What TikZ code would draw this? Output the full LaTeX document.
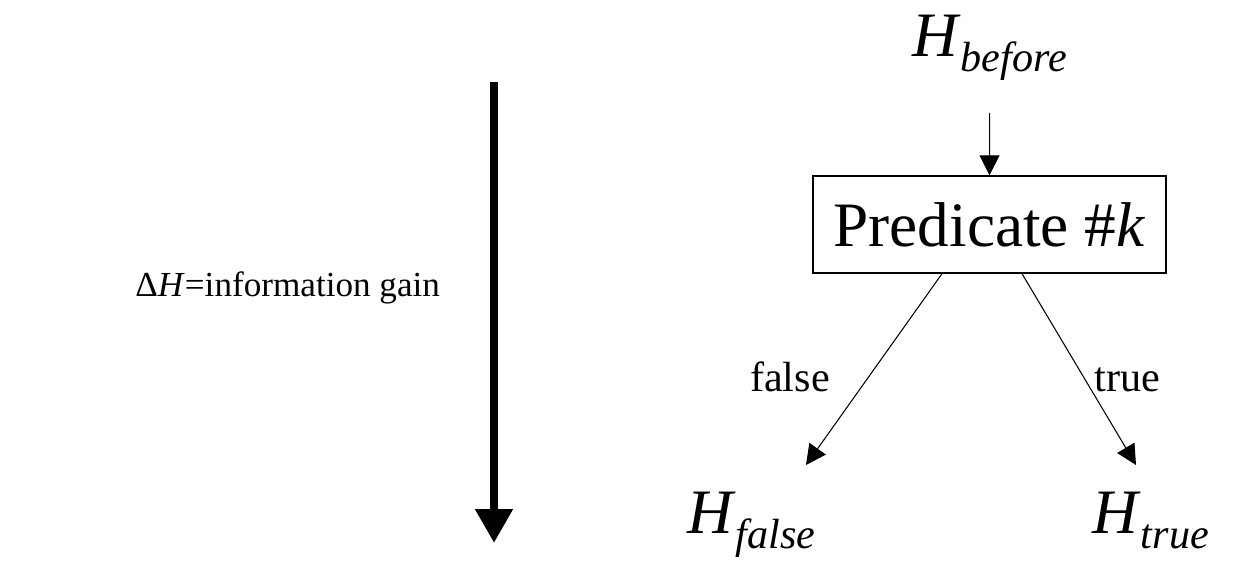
\documentclass[tikz,border=0pt]{standalone}
\usepackage{fontspec}
\setmainfont{Liberation Serif}
\usetikzlibrary{arrows.meta}

\newcommand{\Hsub}[1]{{\fontsize{36}{40}\selectfont\textit{H}}{\fontsize{24}{28}\selectfont\raisebox{-0.3cm}{\textit{#1}}}}

\tikzset{
  txt/.style={inner sep=0pt},
  predbox/.style={draw, line width=0.8pt, minimum width=7.06cm, minimum height=1.94cm, inner sep=0pt, font=\fontsize{36}{40}\selectfont},
  branch/.style={line width=0.6pt, -{Triangle[width=0.4cm,length=0.4cm]}},
  edgelbl/.style={inner sep=0pt, anchor=base, font=\fontsize{24}{28}\selectfont}
}

\begin{document}
\begin{tikzpicture}
    \useasboundingbox (0,0) rectangle (24.74,11.2);

    % Information gain arrow
    \coordinate (gaintop) at (9.88,9.56);
    \coordinate (gaintip) at (9.88,0.34);
    \draw[line width=4.5pt, -{Triangle[width=0.72cm,length=0.68cm]}] (gaintop) -- (gaintip);
    \node[txt, anchor=base west, font=\fontsize{20}{24}\selectfont] (gain) at (2.7,5.26) {Δ\textit{H}=information gain};

    % Decision node
    \node[txt, anchor=base west] (hbefore) at (18.24,10.06) {\Hsub{before}};
    \node[predbox] (pred) at (19.79,6.71) {Predicate \#\textit{k}};
    \node[txt, anchor=base west] (hfalse) at (13.74,0.54) {\Hsub{false}};
    \node[txt, anchor=base west] (htrue) at (21.84,0.54) {\Hsub{true}};

    \coordinate (ftip) at (16.12,1.9);
    \coordinate (ttip) at (22.72,1.9);

    \draw[branch, shorten <=0.63cm] (hbefore.south) -- (pred.north);
    \draw[branch] ([xshift=-0.95cm]pred.south) -- (ftip);
    \draw[branch] ([xshift=0.65cm]pred.south) -- (ttip);

    \node[edgelbl] (lblfalse) at (15.8,3.36) {false};
    \node[edgelbl] (lbltrue) at (22.55,3.36) {true};
\end{tikzpicture}
\end{document}
